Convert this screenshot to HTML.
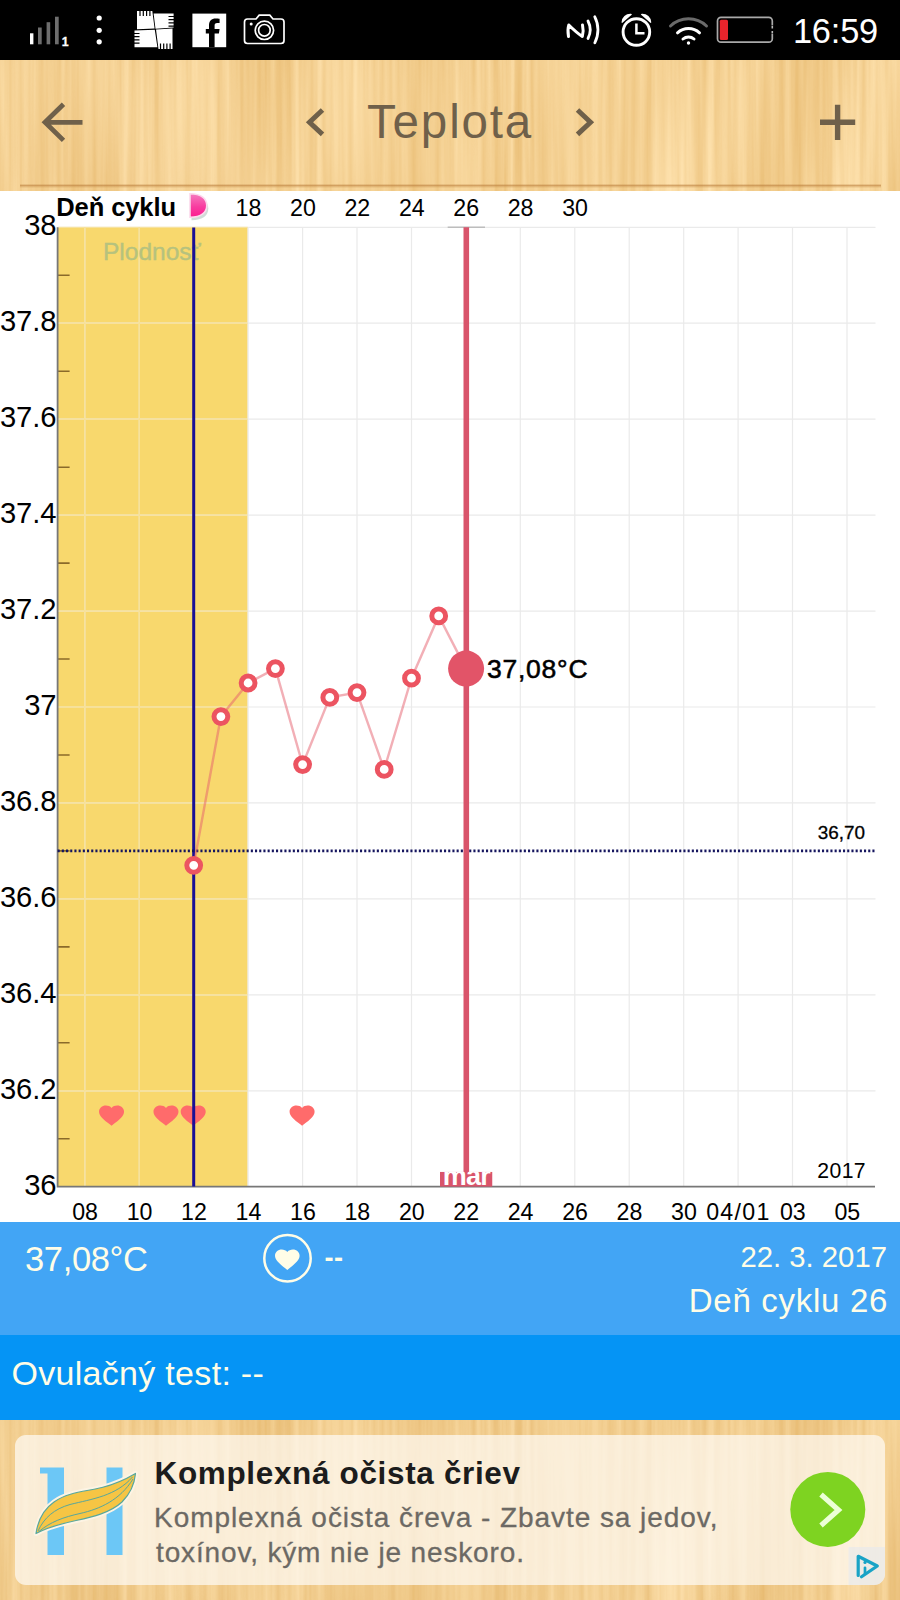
<!DOCTYPE html>
<html lang="sk"><head><meta charset="utf-8"><title>Teplota</title>
<style>
html,body{margin:0;padding:0}
body{width:900px;height:1600px;position:relative;overflow:hidden;background:#fff;font-family:"Liberation Sans",sans-serif;}
.a{position:absolute}
#status{left:0;top:0;width:900px;height:60px;background:#000}
#hdr{left:0;top:60px;width:900px;height:131px;overflow:hidden;background:#f4d197}
#p1{left:0;top:1222px;width:900px;height:113px;background:#42a5f5;color:#fffde7}
#p2{left:0;top:1335px;width:900px;height:85px;background:#0594f5;color:#fffde7}
#adw{left:0;top:1420px;width:900px;height:180px;overflow:hidden;background:#f1cd93}
#ad{left:15px;top:1435px;width:870px;height:150px;border-radius:11px;background:rgba(253,250,243,.73);overflow:hidden}
svg text{font-family:"Liberation Sans",sans-serif}
.t{white-space:nowrap;line-height:1}
</style></head><body>
<svg width="0" height="0" style="position:absolute">
<defs>
<filter id="wood" x="0" y="0" width="100%" height="100%" color-interpolation-filters="sRGB">
<feTurbulence type="fractalNoise" baseFrequency="0.13 0.003" numOctaves="3" seed="7" result="fine"/>
<feTurbulence type="fractalNoise" baseFrequency="0.013 0.0035" numOctaves="1" seed="3" result="coarse"/>
<feComposite in="fine" in2="coarse" operator="arithmetic" k1="0" k2="0.45" k3="0.55" k4="0" result="n"/>
<feColorMatrix in="n" type="matrix" values="0.18 0 0 0 0.866  0.32 0 0 0 0.655  0.50 0 0 0 0.322  0 0 0 0 1"/>
</filter>
</defs></svg>
<div class="a" id="status"><svg width="900" height="60" viewBox="0 0 900 60" style="display:block">
<g fill="#fff">
<rect x="30" y="33.300" width="3.400" height="11"/>
<g fill="#6e6e6e"><rect x="38" y="27.500" width="3.700" height="16.800"/><rect x="46.600" y="22.200" width="3.600" height="22.100"/><rect x="55" y="16.700" width="3.700" height="27.600"/></g>
<text x="61.800" y="46.400" font-size="12.300" font-weight="bold" stroke="#fff" stroke-width=".3">1</text>
<circle cx="99.200" cy="18" r="2.600"/><circle cx="99.200" cy="30.300" r="2.600"/><circle cx="99.200" cy="41.800" r="2.600"/>
<path d="M137 11h15.300l2.300 17.600l-17.600 .700z M153.600 13.500h20v14l-18.100 1.200z M134.500 30.500l20.300 -.800l2.600 17.500h-22.900z M156 29.500l16.500 -1v20.500h-14z"/>
<rect x="192.400" y="13.600" width="33.800" height="33.600"/>
</g>
<path d="M140 10.500v5.500M143.300 10.500v5.500M146.600 10.500v5.500M149.900 10.500v5.500M174 16.500h-5.500M174 19.700h-5.500M174 22.900h-5.500M174 26.100h-5.500M134 33.500h5.500M134 36.700h5.500M134 39.900h5.500M134 43.100h5.500M160.500 49v-5.500M163.700 49v-5.500M166.900 49v-5.500M170.100 49v-5.500" stroke="#000" stroke-width="1.200"/>
<path d="M209 47.200V33.600h-3.200V29H209v-3.600c0-4.600 2.600-7 6.600-7 1.700 0 3.200.2 4 .35v4.200h-2.400c-2 0-2.600 1-2.600 2.600V29h5l-.7 4.600h-4.300v13.600z" fill="#000"/>
<g fill="none" stroke="#fff" stroke-width="1.700">
<path d="M247.500 19h8.500l3.200-3.800h10.600l3.200 3.800h8a3 3 0 0 1 3 3v18.500a3 3 0 0 1-3 3h-33.500a3 3 0 0 1-3-3V22a3 3 0 0 1 3-3z"/>
<circle cx="264.400" cy="30.300" r="9.200"/><circle cx="264.400" cy="30.300" r="5.800"/>
</g>
<circle cx="251.200" cy="24" r="1.500" fill="#fff"/>
<g fill="none" stroke="#fff" stroke-linecap="round" stroke-linejoin="round">
<path d="M568.500 36.500c-.8-4.500-.8-8 .3-11.500c4 4 9 8.500 13.500 11.500c1.200-4 1-8 .2-11.500" stroke-width="3"/>
<path d="M588 21c2.800 5.500 2.800 12 0 17.500" stroke-width="2.800"/>
<path d="M594.800 16.800c4.200 8 4.200 18 0 26" stroke-width="2.800"/>
</g>
<g fill="none" stroke="#fff">
<circle cx="636.400" cy="32" r="13.300" stroke-width="2.900"/>
<path d="M636.400 23.500V33.200H644.500" stroke-width="2.500"/>
</g>
<path d="M621.500 22.500a9 9 0 0 1 9.500-8.800l1 .8l-9.800 8.600z M651.300 22.500a9 9 0 0 0-9.500-8.800l-1 .8l9.800 8.600z" fill="#fff"/>
<g fill="none" stroke-linecap="round">
<path d="M670.500 26a26 26 0 0 1 36 0" stroke="#6a6a6a" stroke-width="3"/>
<path d="M677.500 32.800a16.500 16.500 0 0 1 22 0" stroke="#fff" stroke-width="3"/>
<path d="M683 39a8.300 8.300 0 0 1 11 0" stroke="#fff" stroke-width="3"/>
</g>
<circle cx="688.500" cy="43" r="1.700" fill="#fff"/>
<rect x="717.500" y="17.400" width="54.800" height="24.800" rx="3.500" fill="none" stroke="#a9a9a9" stroke-width="1.700"/>
<rect x="771" y="25.500" width="3" height="8.500" fill="#000"/>
<path d="M772.300 26v7.500" stroke="#bbb" stroke-width="1.600" stroke-dasharray="2.500 2.500"/>
<rect x="719.800" y="19.700" width="8.200" height="20.200" rx="1.500" fill="#e8242c"/>
<text x="878" y="43" font-size="34.400" fill="#fff" text-anchor="end" letter-spacing="-.2">16:59</text>
</svg></div>
<div class="a" id="hdr"><svg width="900" height="132" style="display:block"><rect width="900" height="132" filter="url(#wood)"/></svg></div>
<div class="a" id="adw"><svg width="900" height="180" style="display:block"><rect width="900" height="180" filter="url(#wood)"/><rect width="900" height="180" fill="#c08a40" fill-opacity=".05"/></svg></div>
<svg class="a" style="left:0;top:60px" width="900" height="132" viewBox="0 60 900 132">
<defs><linearGradient id="hs" x1="0" y1="0" x2="0" y2="1"><stop offset="0" stop-color="#b87a38" stop-opacity="0"/><stop offset=".3" stop-color="#b87a38" stop-opacity=".62"/><stop offset="1" stop-color="#d9a860" stop-opacity="0"/></linearGradient></defs>
<rect x="20" y="184" width="861" height="4.500" fill="url(#hs)"/>
<path d="M82.5 122.3H45.5M63.5 104.2L45 122.3L63.5 140.4" fill="none" stroke="#6f604a" stroke-width="4.8"/>
<path d="M322.5 110L309.5 122.2L322.5 134.4" fill="none" stroke="#6f604a" stroke-width="5"/>
<path d="M577.5 110L590.5 122.2L577.5 134.4" fill="none" stroke="#6f604a" stroke-width="5"/>
<path d="M820 122.3H855.2M837.6 104.8V140" fill="none" stroke="#6f604a" stroke-width="5.4"/>
<text x="367" y="138" font-size="47.5" fill="#6f604a" letter-spacing="1.85">Teplota</text>
</svg>
<svg class="a" style="left:0;top:192px" width="900" height="1030" viewBox="0 192 900 1030"><rect x="58" y="227.5" width="189.7" height="958.7" fill="#f8d86d"/><path d="M57.6 1090.8H875.5M57.6 994.8H875.5M57.6 898.9H875.5M57.6 802.9H875.5M57.6 707.0H875.5M57.6 611.1H875.5M57.6 515.1H875.5M57.6 419.2H875.5M57.6 323.2H875.5M57.6 227.3H875.5M84.8 227.3V1186.7M139.3 227.3V1186.7M193.7 227.3V1186.7M248.1 227.3V1186.7M302.6 227.3V1186.7M357.0 227.3V1186.7M411.5 227.3V1186.7M465.9 227.3V1186.7M520.3 227.3V1186.7M574.8 227.3V1186.7M629.2 227.3V1186.7M683.7 227.3V1186.7M738.1 227.3V1186.7M792.5 227.3V1186.7M847.0 227.3V1186.7" stroke="#eaeaea" stroke-width="1.2" fill="none"/><path d="M58.5 1090.8H247.7M58.5 994.8H247.7M58.5 898.9H247.7M58.5 802.9H247.7M58.5 707.0H247.7M58.5 611.1H247.7M58.5 515.1H247.7M58.5 419.2H247.7M58.5 323.2H247.7M58.5 227.3H247.7M84.8 227.5V1186M139.3 227.5V1186M193.7 227.5V1186" stroke="#fbe08a" stroke-width="1" fill="none"/><path d="M57.6 1138.7H69.6M57.6 1042.8H69.6M57.6 946.9H69.6M57.6 850.9H69.6M57.6 755.0H69.6M57.6 659.0H69.6M57.6 563.1H69.6M57.6 467.2H69.6M57.6 371.2H69.6M57.6 275.3H69.6" stroke="#8a6a2a" stroke-width="1.6" fill="none"/><path d="M57.6 227.3V1186.7H875" stroke="#777" stroke-width="1.8" fill="none"/><path transform="translate(96.54 1102.30) scale(1.250 1.101)" fill="#ff6b6b" d="M12 21.35l-1.45-1.32C5.4 15.36 2 12.28 2 8.5 2 5.42 4.42 3 7.5 3c1.74 0 3.41.81 4.500 2.09C13.09 3.81 14.76 3 16.5 3 19.58 3 22 5.42 22 8.500c0 3.780-3.400 6.860-8.550 11.540L12 21.350z"/><path transform="translate(150.98 1102.30) scale(1.250 1.101)" fill="#ff6b6b" d="M12 21.35l-1.45-1.32C5.4 15.36 2 12.28 2 8.5 2 5.42 4.42 3 7.5 3c1.74 0 3.41.81 4.500 2.09C13.09 3.81 14.76 3 16.5 3 19.58 3 22 5.42 22 8.500c0 3.780-3.400 6.860-8.550 11.540L12 21.350z"/><path transform="translate(178.20 1102.30) scale(1.250 1.101)" fill="#ff6b6b" d="M12 21.35l-1.45-1.32C5.4 15.36 2 12.28 2 8.5 2 5.42 4.42 3 7.5 3c1.74 0 3.41.81 4.500 2.09C13.09 3.81 14.76 3 16.5 3 19.58 3 22 5.42 22 8.500c0 3.780-3.400 6.860-8.550 11.540L12 21.350z"/><path transform="translate(287.08 1102.30) scale(1.250 1.101)" fill="#ff6b6b" d="M12 21.35l-1.45-1.32C5.4 15.36 2 12.28 2 8.5 2 5.42 4.42 3 7.5 3c1.74 0 3.41.81 4.500 2.09C13.09 3.81 14.76 3 16.5 3 19.58 3 22 5.42 22 8.500c0 3.780-3.400 6.860-8.550 11.540L12 21.350z"/><text x="103" y="260" font-size="24.5" fill="#b6c27e" stroke="#b6c27e" stroke-width=".4">Plodnosť</text><path d="M193.7 227.5V1186.5" stroke="#1a0f96" stroke-width="3"/><path d="M57.6 850.9H875.5" stroke="#15155e" stroke-width="2.6" stroke-dasharray="2.1 2.1"/><polyline points="193.7,865.3 220.9,716.6 248.1,683.0 275.4,668.6 302.6,764.6 329.8,697.4 357.0,692.6 384.2,769.4 411.5,678.2 438.7,615.9 465.9,668.6" fill="none" stroke="#e5606e" stroke-opacity=".5" stroke-width="2.4"/><path d="M447.7 227.2H485" stroke="#bdbdbd" stroke-width="1.4"/><path d="M466.3 227.3V1186" stroke="#d9546b" stroke-width="5.6"/><circle cx="193.7" cy="865.3" r="6.9" fill="#fff" stroke="#ec5461" stroke-width="5"/><circle cx="220.9" cy="716.6" r="6.9" fill="#fff" stroke="#ec5461" stroke-width="5"/><circle cx="248.1" cy="683.0" r="6.9" fill="#fff" stroke="#ec5461" stroke-width="5"/><circle cx="275.4" cy="668.6" r="6.9" fill="#fff" stroke="#ec5461" stroke-width="5"/><circle cx="302.6" cy="764.6" r="6.9" fill="#fff" stroke="#ec5461" stroke-width="5"/><circle cx="329.8" cy="697.4" r="6.9" fill="#fff" stroke="#ec5461" stroke-width="5"/><circle cx="357.0" cy="692.6" r="6.9" fill="#fff" stroke="#ec5461" stroke-width="5"/><circle cx="384.2" cy="769.4" r="6.9" fill="#fff" stroke="#ec5461" stroke-width="5"/><circle cx="411.5" cy="678.2" r="6.9" fill="#fff" stroke="#ec5461" stroke-width="5"/><circle cx="438.7" cy="615.9" r="6.9" fill="#fff" stroke="#ec5461" stroke-width="5"/><circle cx="466.1" cy="668.6" r="18" fill="#e25468"/><text x="487" y="678" font-size="26.5" fill="#000" stroke="#000" stroke-width=".55" letter-spacing="0.75">37,08°C</text><svg x="440" y="1171.8" width="52.5" height="15" viewBox="0 0 52.5 15"><rect width="52.5" height="15" fill="#d9546b"/><text x="26.400" y="13" font-size="27" font-weight="bold" text-anchor="middle" fill="#fff" letter-spacing="-0.800">mar</text></svg><text x="865" y="838.8" font-size="18.9" text-anchor="end" fill="#000" stroke="#000" stroke-width=".3">36,70</text><text x="866" y="1178" font-size="21.2" text-anchor="end" fill="#000" letter-spacing=".4">2017</text><text x="56.4" y="1194.8" font-size="29.2" text-anchor="end" fill="#000" letter-spacing="-.1">36</text><text x="56.4" y="1098.9" font-size="29.2" text-anchor="end" fill="#000" letter-spacing="-.1">36.2</text><text x="56.4" y="1002.9" font-size="29.2" text-anchor="end" fill="#000" letter-spacing="-.1">36.4</text><text x="56.4" y="907.0" font-size="29.2" text-anchor="end" fill="#000" letter-spacing="-.1">36.6</text><text x="56.4" y="811.0" font-size="29.2" text-anchor="end" fill="#000" letter-spacing="-.1">36.8</text><text x="56.4" y="715.1" font-size="29.2" text-anchor="end" fill="#000" letter-spacing="-.1">37</text><text x="56.4" y="619.2" font-size="29.2" text-anchor="end" fill="#000" letter-spacing="-.1">37.2</text><text x="56.4" y="523.2" font-size="29.2" text-anchor="end" fill="#000" letter-spacing="-.1">37.4</text><text x="56.4" y="427.3" font-size="29.2" text-anchor="end" fill="#000" letter-spacing="-.1">37.6</text><text x="56.4" y="331.3" font-size="29.2" text-anchor="end" fill="#000" letter-spacing="-.1">37.8</text><text x="56.4" y="234.5" font-size="29.2" text-anchor="end" fill="#000" letter-spacing="-.1">38</text><text x="85.1" y="1219.5" font-size="23.2" text-anchor="middle" fill="#000">08</text><text x="139.6" y="1219.5" font-size="23.2" text-anchor="middle" fill="#000">10</text><text x="194.0" y="1219.5" font-size="23.2" text-anchor="middle" fill="#000">12</text><text x="248.4" y="1219.5" font-size="23.2" text-anchor="middle" fill="#000">14</text><text x="302.9" y="1219.5" font-size="23.2" text-anchor="middle" fill="#000">16</text><text x="357.3" y="1219.5" font-size="23.2" text-anchor="middle" fill="#000">18</text><text x="411.8" y="1219.5" font-size="23.2" text-anchor="middle" fill="#000">20</text><text x="466.2" y="1219.5" font-size="23.2" text-anchor="middle" fill="#000">22</text><text x="520.6" y="1219.5" font-size="23.2" text-anchor="middle" fill="#000">24</text><text x="575.1" y="1219.5" font-size="23.2" text-anchor="middle" fill="#000">26</text><text x="629.5" y="1219.5" font-size="23.2" text-anchor="middle" fill="#000">28</text><text x="684.0" y="1219.5" font-size="23.2" text-anchor="middle" fill="#000">30</text><text x="738.4" y="1219.5" font-size="23.2" text-anchor="middle" fill="#000" letter-spacing="1.3">04/01</text><text x="792.8" y="1219.5" font-size="23.2" text-anchor="middle" fill="#000">03</text><text x="847.3" y="1219.5" font-size="23.2" text-anchor="middle" fill="#000">05</text><rect x="0" y="192" width="900" height="34.6" fill="#fff" fill-opacity=".0"/><text x="248.4" y="215.8" font-size="23.2" text-anchor="middle" fill="#000">18</text><text x="302.9" y="215.8" font-size="23.2" text-anchor="middle" fill="#000">20</text><text x="357.3" y="215.8" font-size="23.2" text-anchor="middle" fill="#000">22</text><text x="411.8" y="215.8" font-size="23.2" text-anchor="middle" fill="#000">24</text><text x="466.2" y="215.8" font-size="23.2" text-anchor="middle" fill="#000">26</text><text x="520.6" y="215.8" font-size="23.2" text-anchor="middle" fill="#000">28</text><text x="575.1" y="215.8" font-size="23.2" text-anchor="middle" fill="#000">30</text><text x="56.3" y="216.3" font-size="25.5" font-weight="bold" fill="#000" letter-spacing="-0.1">Deň cyklu</text><defs><linearGradient id="pk" x1="0" y1="0" x2="0" y2="1"><stop offset="0" stop-color="#f57cbf"/><stop offset=".55" stop-color="#f83da0"/><stop offset="1" stop-color="#fc1a8f"/></linearGradient></defs><path d="M191.500 197C203 197 208.300 202 208.300 208.600C208.300 215.500 203 220.300 191.500 220.300Z" fill="#a9bdb6" fill-opacity=".55"/><path d="M190 193.700C201.500 193.700 206.800 199 206.800 205.500C206.800 212 201.500 217.300 190 217.300Z" fill="url(#pk)" stroke="#fcd9ec" stroke-width="1.600"/></svg>
<div class="a" id="p1">
<div class="a t" style="left:25px;top:20px;font-size:34.5px;letter-spacing:-.35px">37,08°C</div>
<svg class="a" style="left:260px;top:8px" width="56" height="56" viewBox="260 1230 56 56"><circle cx="287.5" cy="1258.3" r="23.2" fill="none" stroke="#fffde7" stroke-width="2.5"/>
<path transform="translate(272.54 1246.26) scale(1.23 1.112)" fill="#fffde7" d="M12 21.35l-1.45-1.32C5.4 15.36 2 12.28 2 8.5 2 5.42 4.42 3 7.5 3c1.74 0 3.41.81 4.500 2.09C13.09 3.81 14.76 3 16.5 3 19.58 3 22 5.42 22 8.500c0 3.780-3.400 6.860-8.550 11.540L12 21.350z"/></svg>
<div class="a t" style="left:324.5px;top:23px;font-size:27px;letter-spacing:.6px;font-weight:bold">--</div>
<div class="a t" style="right:13px;top:19.500px;font-size:29.300px">22. 3. 2017</div>
<div class="a t" style="right:12px;top:62px;font-size:33px;letter-spacing:.7px">Deň cyklu 26</div>
</div>
<div class="a" id="p2"><div class="a t" style="left:11.500px;top:21px;font-size:34px;letter-spacing:.3px">Ovulačný test: --</div></div>
<div class="a" id="ad"></div>
<svg class="a" style="left:30px;top:1455px" width="115" height="115" viewBox="30 1455 115 115">
<path d="M47.5 1467.5h16.5v87.500h-16.500z M106.500 1467.500h16v87.500h-16z M40 1467.500h9v6h-9z" fill="#6cc7f6"/>
<path d="M36 1533.500C38 1520 44 1509 54 1502C68 1492 86 1491.500 102 1487.500C116 1484 127 1478.500 135.500 1473.500C134.500 1484 130 1494 122 1502C110 1513 92 1517 76 1520.500C60 1524 46 1528 36 1533.500Z" fill="#f6c544" stroke="#fdf4e4" stroke-width="5" stroke-linejoin="round"/>
<path d="M36 1533.500C38 1520 44 1509 54 1502C68 1492 86 1491.500 102 1487.500C116 1484 127 1478.500 135.500 1473.500C134.500 1484 130 1494 122 1502C110 1513 92 1517 76 1520.500C60 1524 46 1528 36 1533.500Z" fill="#f6c544" stroke="#58a79c" stroke-width="1.200" stroke-linejoin="round"/>
<path d="M38 1531C44 1518 54 1509 70 1504.500C92 1499 116 1496 132.500 1477" fill="none" stroke="#58a79c" stroke-width="1"/>
<path d="M39 1531.500C50 1522 64 1517 80 1513.500C100 1509 120 1500 133 1479" fill="none" stroke="#58a79c" stroke-width="1"/>
</svg>
<div class="a t" style="left:154.500px;top:1457.500px;font-size:31.500px;font-weight:bold;color:#1c1c1c;letter-spacing:.65px">Komplexná očista čriev</div>
<div class="a t" style="left:154px;top:1504px;font-size:28px;color:#6c6964;-webkit-text-stroke:.3px #6c6964;letter-spacing:.95px">Komplexná očista čreva - Zbavte sa jedov,</div>
<div class="a t" style="left:156px;top:1539px;font-size:28px;color:#6c6964;-webkit-text-stroke:.3px #6c6964;letter-spacing:.85px">toxínov, kým nie je neskoro.</div>
<svg class="a" style="left:780px;top:1460px" width="110" height="130" viewBox="780 1460 110 130">
<circle cx="827.8" cy="1509.4" r="37.5" fill="#7ed321"/>
<path d="M821 1494.500L838.500 1510L821 1525.500" fill="none" stroke="#ecffd6" stroke-width="5.200"/>
<path d="M848.500 1547H885v27a11 11 0 0 1-11 11H848.500z" fill="#e9e9e9" fill-opacity=".75"/>
<path d="M858.200 1575.500V1556.300L877.300 1566L861.500 1576.800" fill="none" stroke="#19a3c6" stroke-width="3.200" stroke-linejoin="round" stroke-linecap="round"/>
<path d="M865 1567.800v5.400" stroke="#19a3c6" stroke-width="2.700" stroke-linecap="round"/><circle cx="865" cy="1562.400" r="1.600" fill="#19a3c6"/>
</svg>
</body></html>
